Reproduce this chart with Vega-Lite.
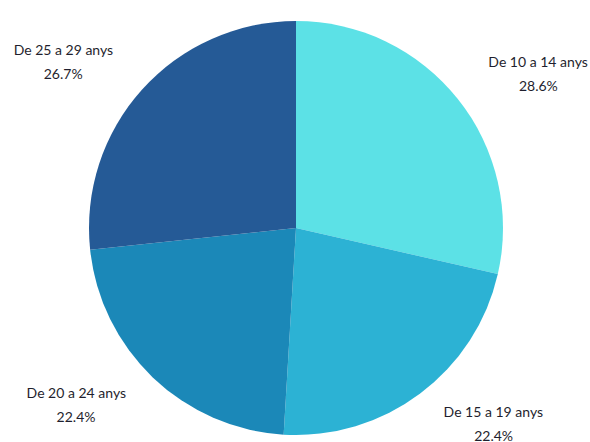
{
  "$schema": "https://vega.github.io/schema/vega-lite/v6.json",
  "width": 590,
  "height": 428,
  "autosize": {"type": "none"},
  "padding": {"left": 1, "top": 14, "right": 0, "bottom": 0},
  "background": "white",
  "data": {
    "values": [
      {"group": "De 10 a 14 anys", "pct": 28.6},
      {"group": "De 15 a 19 anys", "pct": 22.4},
      {"group": "De 20 a 24 anys", "pct": 22.4},
      {"group": "De 25 a 29 anys", "pct": 26.7}
    ]
  },
  "transform": [
    {"calculate": "format(datum.pct, '.1f') + '%'", "as": "pctLabel"}
  ],
  "encoding": {
    "theta": {"field": "pct", "type": "quantitative", "stack": true},
    "order": {"field": "group", "type": "ordinal"}
  },
  "layer": [
    {
      "mark": {"type": "arc", "outerRadius": 207, "stroke": null},
      "encoding": {
        "color": {
          "field": "group",
          "type": "nominal",
          "scale": {
            "domain": ["De 10 a 14 anys", "De 15 a 19 anys", "De 20 a 24 anys", "De 25 a 29 anys"],
            "range": ["#5ce1e6", "#2cb2d4", "#1b88b8", "#255a96"]
          },
          "legend": null
        }
      }
    },
    {
      "mark": {
        "type": "text", "radius": 246, "dy": -12, "font": "Lato", "fontSize": 14, "color": "#1f1f2e",
        "align": {"expr": "datum.group < 'De 20' ? 'left' : 'right'"},
        "baseline": "middle"
      },
      "encoding": {"text": {"field": "group", "type": "nominal"}}
    },
    {
      "mark": {
        "type": "text", "radius": 246, "dy": 12, "font": "Lato", "fontSize": 14, "color": "#1f1f2e",
        "align": "center",
        "dx": {"expr": "datum.group < 'De 20' ? 50 : -50"},
        "baseline": "middle"
      },
      "encoding": {"text": {"field": "pctLabel", "type": "nominal"}}
    }
  ]
}
